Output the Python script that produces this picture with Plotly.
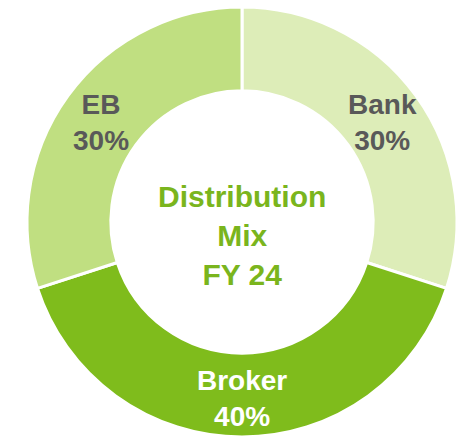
import math
import plotly.graph_objects as go

channels = ["Bank", "Broker", "EB"]
shares = [30, 40, 30]
slice_colors = ["#DDEDB8", "#7FBC1C", "#C0DF81"]
label_colors = ["#595959", "#FFFFFF", "#595959"]
center_text = "Distribution<br>Mix<br>FY 24"

W, H = 467, 437
CX, CY = 242, 223          # pie centre, pixels from top-left
R_OUT = 216
HOLE = 0.61
FONT = "Liberation Sans, Arial"

fig = go.Figure(
    go.Pie(
        labels=channels,
        values=shares,
        hole=HOLE,
        sort=False,
        direction="clockwise",
        rotation=0,
        marker=dict(colors=slice_colors, line=dict(color="white", width=3)),
        textinfo="none",
        domain=dict(x=[(CX - R_OUT) / W, (CX + R_OUT) / W], y=[0.0, (H - CY + R_OUT) / H]),
        showlegend=False,
        hoverinfo="label+percent",
    )
)

# slice labels at the middle of the ring
total = sum(shares)
r_mid = R_OUT * (1 + HOLE) / 2
start = 0.0
for name, val, col in zip(channels, shares, label_colors):
    mid = (start + val / 2) / total * 2 * math.pi
    start += val
    px = CX + r_mid * math.sin(mid)
    py = CY - r_mid * math.cos(mid) + 2
    fig.add_annotation(
        text=f"<b>{name}<br>{round(val / total * 100)}%</b>",
        x=px / W, y=1 - py / H, xref="paper", yref="paper",
        xanchor="center", yanchor="middle",
        showarrow=False,
        font=dict(family=FONT, size=28, color=col),
    )

fig.add_annotation(
    text=f"<b>{center_text}</b>",
    x=CX / W,
    y=0.46,
    xref="paper",
    yref="paper",
    xanchor="center", yanchor="middle",
    showarrow=False,
    font=dict(family=FONT, size=30, color="#7AB51D"),
)

fig.update_layout(
    width=W,
    height=H,
    margin=dict(l=0, r=0, t=0, b=0),
    paper_bgcolor="white",
    plot_bgcolor="white",
)

# drop the browser's default 8px body margin so the figure sits at (0, 0)
fig.write_html(
    "out.html",
    config={"displayModeBar": False},
    post_script="document.body.style.margin='0';",
)
